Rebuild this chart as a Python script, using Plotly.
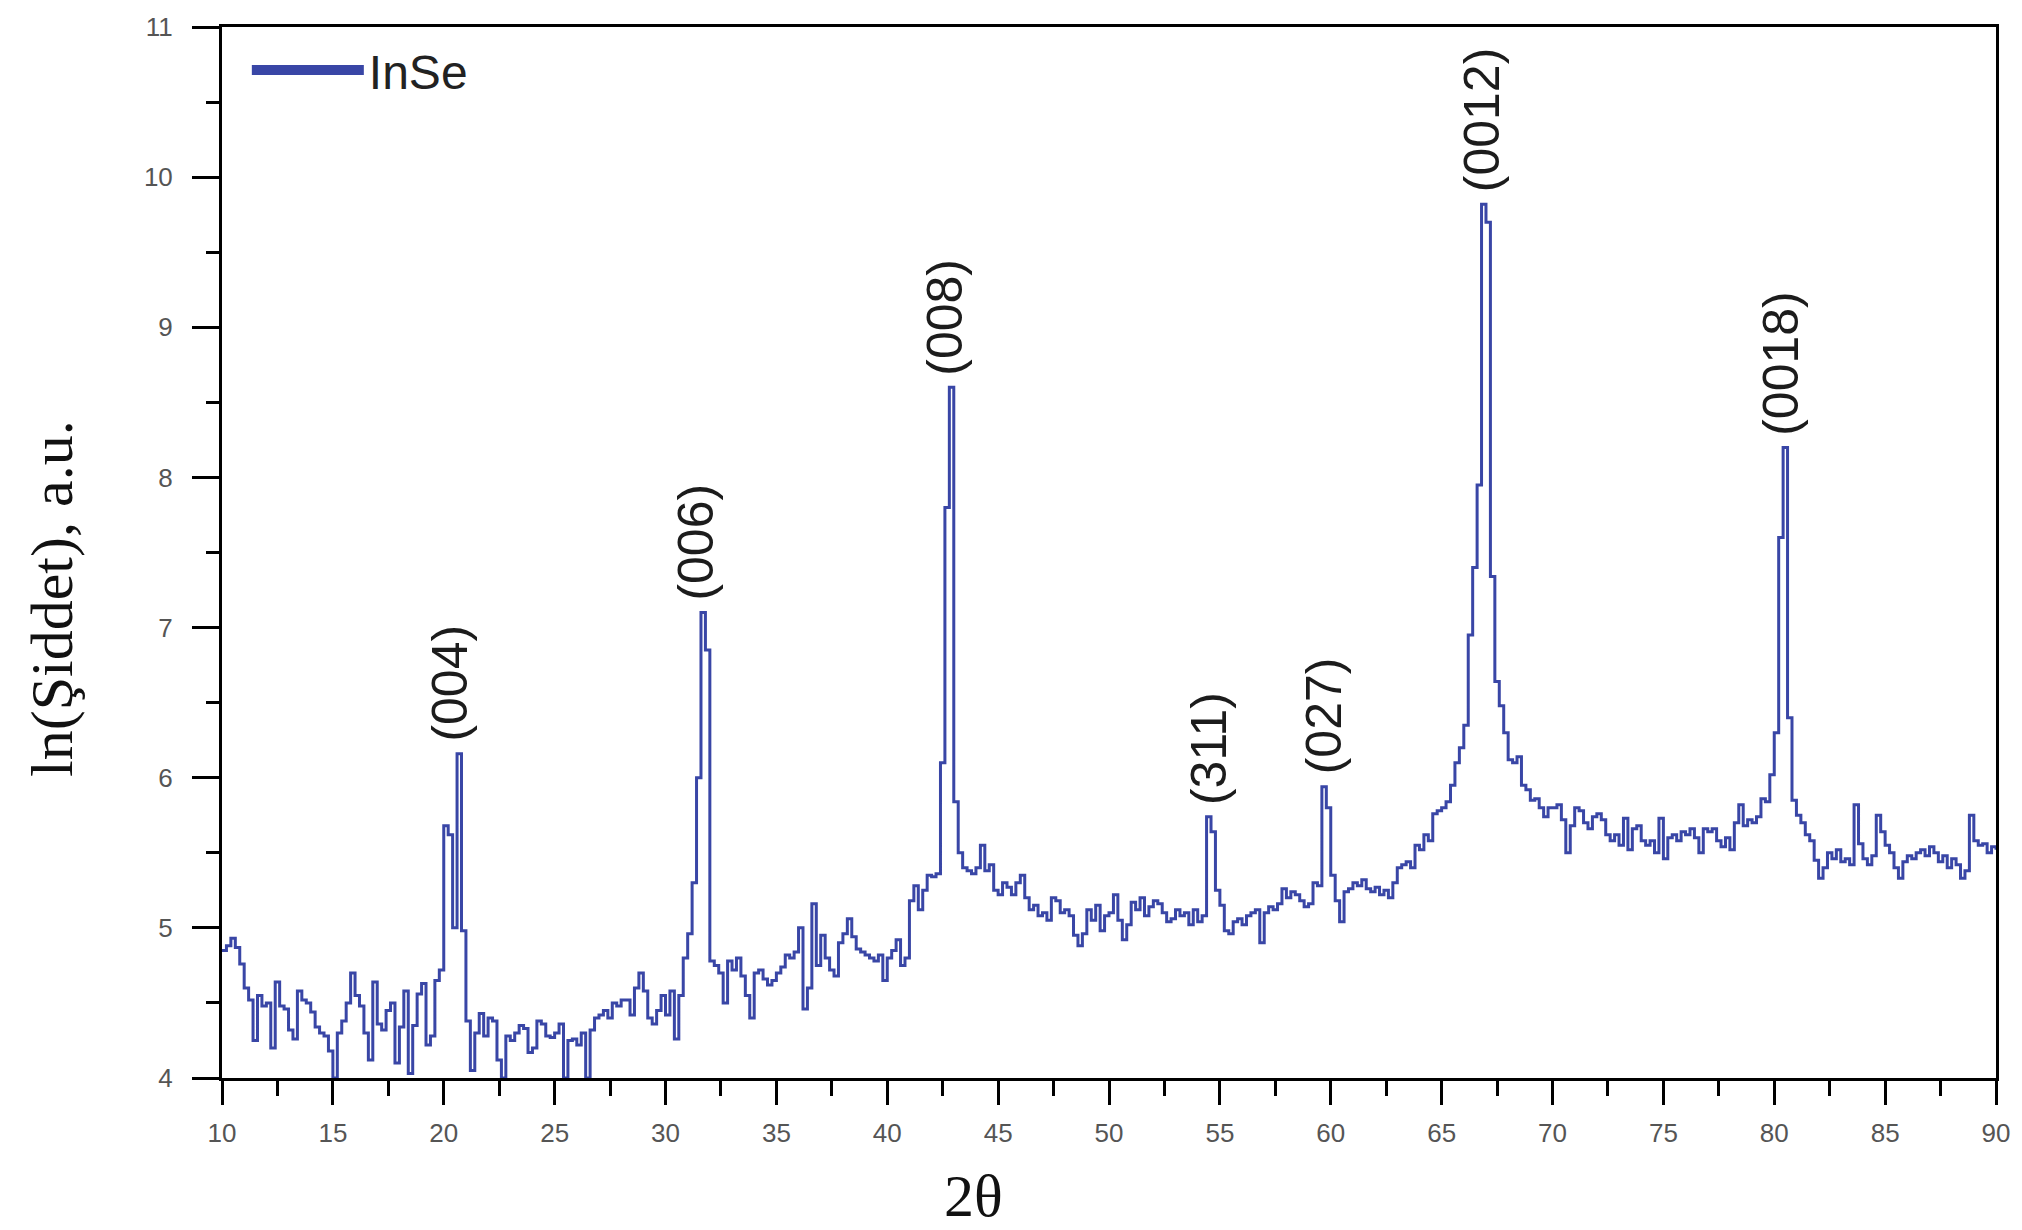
import plotly.graph_objects as go

# ---------------- data ----------------
scan_start = 10.0
scan_step = 0.2

intensity_10_30 = [
    4.85, 4.88, 4.93, 4.87, 4.76, 4.60, 4.52, 4.25, 4.55, 4.48,
    4.50, 4.20, 4.64, 4.48, 4.46, 4.32, 4.26, 4.58, 4.52, 4.50,
    4.44, 4.34, 4.30, 4.28, 4.18, 4.00, 4.30, 4.38, 4.50, 4.70,
    4.55, 4.48, 4.30, 4.12, 4.64, 4.36, 4.32, 4.45, 4.50, 4.10,
    4.34, 4.58, 4.03, 4.35, 4.56, 4.63, 4.22, 4.28, 4.65, 4.72,
    5.68, 5.62, 5.00, 6.16, 4.98, 4.38, 4.05, 4.30, 4.43, 4.28,
    4.40, 4.38, 4.12, 4.00, 4.28, 4.25, 4.30, 4.35, 4.33, 4.17,
    4.20, 4.38, 4.36, 4.28, 4.27, 4.30, 4.36, 4.00, 4.25, 4.26,
    4.22, 4.30, 4.00, 4.32, 4.40, 4.42, 4.45, 4.40, 4.50, 4.48,
    4.52, 4.52, 4.42, 4.60, 4.70, 4.58, 4.40, 4.36, 4.45, 4.55,
]
intensity_30_50 = [
    4.42, 4.58, 4.26, 4.55, 4.80, 4.96, 5.30, 6.00, 7.10, 6.85,
    4.78, 4.75, 4.70, 4.50, 4.78, 4.72, 4.80, 4.68, 4.55, 4.40,
    4.70, 4.72, 4.66, 4.62, 4.65, 4.70, 4.74, 4.82, 4.80, 4.84,
    5.00, 4.46, 4.60, 5.16, 4.75, 4.95, 4.80, 4.72, 4.68, 4.90,
    4.96, 5.06, 4.94, 4.86, 4.84, 4.82, 4.80, 4.78, 4.82, 4.65,
    4.80, 4.85, 4.92, 4.75, 4.80, 5.18, 5.28, 5.12, 5.25, 5.35,
    5.34, 5.36, 6.10, 7.80, 8.60, 5.84, 5.50, 5.40, 5.38, 5.36,
    5.40, 5.55, 5.38, 5.42, 5.25, 5.22, 5.30, 5.27, 5.22, 5.30,
    5.35, 5.20, 5.12, 5.15, 5.08, 5.10, 5.05, 5.20, 5.18, 5.10,
    5.12, 5.08, 4.95, 4.88, 4.96, 5.12, 5.05, 5.15, 4.98, 5.08,
]
intensity_50_70 = [
    5.10, 5.22, 5.05, 4.92, 5.02, 5.17, 5.12, 5.20, 5.08, 5.14,
    5.18, 5.16, 5.10, 5.04, 5.06, 5.12, 5.08, 5.10, 5.02, 5.12,
    5.04, 5.08, 5.74, 5.64, 5.25, 5.15, 4.98, 4.96, 5.04, 5.06,
    5.02, 5.08, 5.10, 5.12, 4.90, 5.10, 5.14, 5.12, 5.16, 5.26,
    5.20, 5.24, 5.22, 5.18, 5.14, 5.16, 5.30, 5.28, 5.94, 5.80,
    5.35, 5.18, 5.04, 5.24, 5.26, 5.30, 5.28, 5.32, 5.26, 5.24,
    5.27, 5.22, 5.25, 5.20, 5.30, 5.40, 5.42, 5.44, 5.40, 5.55,
    5.52, 5.62, 5.58, 5.76, 5.78, 5.80, 5.84, 5.95, 6.10, 6.20,
    6.35, 6.95, 7.40, 7.95, 9.82, 9.70, 7.34, 6.64, 6.48, 6.30,
    6.12, 6.10, 6.14, 5.95, 5.92, 5.85, 5.86, 5.80, 5.74, 5.80,
]
intensity_70_90 = [
    5.80, 5.82, 5.72, 5.50, 5.68, 5.80, 5.78, 5.70, 5.66, 5.74,
    5.76, 5.72, 5.62, 5.58, 5.62, 5.55, 5.73, 5.52, 5.66, 5.68,
    5.58, 5.55, 5.58, 5.50, 5.73, 5.46, 5.60, 5.62, 5.58, 5.64,
    5.62, 5.66, 5.60, 5.50, 5.66, 5.64, 5.66, 5.58, 5.54, 5.60,
    5.52, 5.70, 5.82, 5.68, 5.72, 5.70, 5.74, 5.86, 5.84, 6.02,
    6.30, 7.60, 8.20, 6.40, 5.85, 5.75, 5.70, 5.62, 5.58, 5.45,
    5.33, 5.40, 5.50, 5.46, 5.52, 5.44, 5.46, 5.42, 5.82, 5.56,
    5.46, 5.42, 5.48, 5.75, 5.64, 5.55, 5.50, 5.40, 5.33, 5.44,
    5.48, 5.46, 5.50, 5.52, 5.48, 5.54, 5.50, 5.44, 5.48, 5.40,
    5.46, 5.42, 5.33, 5.38, 5.75, 5.58, 5.55, 5.56, 5.50, 5.54,
    5.52,
]

hkl_labels = ["(004)", "(006)", "(008)", "(311)", "(027)", "(0012)", "(0018)"]
hkl_two_theta = [20.3, 31.4, 42.6, 54.5, 59.7, 66.8, 80.3]

x_ticks = [10, 15, 20, 25, 30, 35, 40, 45, 50, 55, 60, 65, 70, 75, 80, 85, 90]
y_ticks = [4, 5, 6, 7, 8, 9, 10, 11]

series_name = "InSe"
x_title = "2θ"
y_title = "ln(Şiddet), a.u."

# ---------------- build ----------------
intensity = intensity_10_30 + intensity_30_50 + intensity_50_70 + intensity_70_90
two_theta = [round(scan_start + i * scan_step, 2) for i in range(len(intensity))]

LINE_COLOR = "#3946A6"

fig = go.Figure()
fig.add_trace(go.Scatter(
    x=two_theta, y=intensity, mode="lines", name=series_name,
    line=dict(color=LINE_COLOR, width=3, shape="hv"),
    showlegend=False, legendgroup="inse",
))
# legend entry for the same series, drawn with the thick key line of the reference
fig.add_trace(go.Scatter(
    x=[None], y=[None], mode="lines", name=series_name,
    line=dict(color=LINE_COLOR, width=13),
    showlegend=True, legendgroup="inse",
))

annotations = []
for lab, pos in zip(hkl_labels, hkl_two_theta):
    top = max(v for t, v in zip(two_theta, intensity) if abs(t - pos) <= 0.5)
    annotations.append(dict(
        x=pos, y=top, xref="x", yref="y", text=lab, textangle=-90,
        showarrow=False, xanchor="center", yanchor="bottom", yshift=10,
        font=dict(family="Liberation Sans, Arial, sans-serif", size=50, color="#1c1c1c"),
    ))

annotations.append(dict(
    x=0.4234, y=-0.1126, xref="paper", yref="paper", text=x_title,
    showarrow=False, xanchor="center", yanchor="middle",
    font=dict(family="Liberation Serif, Times New Roman, serif", size=60, color="#111"),
))
annotations.append(dict(
    x=-0.0957, y=0.456, xref="paper", yref="paper", text=y_title, textangle=-90,
    showarrow=False, xanchor="center", yanchor="middle",
    font=dict(family="Liberation Serif, Times New Roman, serif", size=60, color="#111"),
))

tick_font = dict(family="Liberation Sans, Arial, sans-serif", size=26, color="#555")

fig.update_layout(
    width=2022, height=1230,
    margin=dict(l=222, r=24, t=21, b=152),
    paper_bgcolor="white", plot_bgcolor="white",
    annotations=annotations,
    legend=dict(
        x=0.014, y=0.995, xanchor="left", yanchor="top",
        bgcolor="rgba(0,0,0,0)", borderwidth=0,
        font=dict(family="Liberation Sans, Arial, sans-serif", size=48, color="#222"),
        itemwidth=112,
    ),
    xaxis=dict(
        range=[10, 90], tickmode="array", tickvals=x_ticks,
        ticks="outside", ticklen=24, tickwidth=2.5, tickcolor="black",
        minor=dict(dtick=2.5, tick0=10, ticks="outside", ticklen=15, tickwidth=2.5, tickcolor="black"),
        showline=True, linecolor="black", linewidth=3, mirror=True,
        showgrid=False, zeroline=False, tickfont=tick_font, ticklabelstandoff=6,
    ),
    yaxis=dict(
        range=[4, 11], tickmode="array", tickvals=y_ticks,
        ticks="outside", ticklen=27, tickwidth=2.5, tickcolor="black",
        minor=dict(dtick=0.5, tick0=4, ticks="outside", ticklen=13, tickwidth=2.5, tickcolor="black"),
        showline=True, linecolor="black", linewidth=3, mirror=True,
        showgrid=False, zeroline=False, tickfont=tick_font, ticklabelstandoff=14,
    ),
)

fig.write_html("out.html")
